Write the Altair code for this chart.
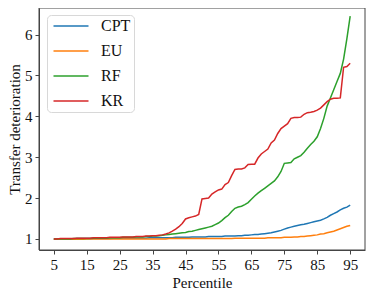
import altair as alt
import pandas as pd

percentiles = list(range(5, 96))

cpt = [1.00, 1.00, 1.00, 1.00, 1.00, 1.00, 1.00, 1.01, 1.01, 1.01,   # 5-14
       1.01, 1.01, 1.01, 1.01, 1.01, 1.01, 1.01, 1.01, 1.02, 1.02,   # 15-24
       1.02, 1.02, 1.02, 1.02, 1.02, 1.02, 1.02, 1.02, 1.02, 1.03,   # 25-34
       1.03, 1.03, 1.03, 1.03, 1.03, 1.03, 1.03, 1.04, 1.04, 1.04,   # 35-44
       1.04, 1.04, 1.05, 1.05, 1.05, 1.05, 1.05, 1.06, 1.06, 1.06,   # 45-54
       1.06, 1.06, 1.07, 1.07, 1.07, 1.07, 1.08, 1.08, 1.09, 1.09,   # 55-64
       1.10, 1.11, 1.11, 1.12, 1.13, 1.14, 1.15, 1.17, 1.19, 1.21,   # 65-74
       1.24, 1.27, 1.29, 1.31, 1.33, 1.35, 1.36, 1.38, 1.40, 1.42,   # 75-84
       1.44, 1.46, 1.49, 1.53, 1.58, 1.62, 1.66, 1.71, 1.75, 1.78,   # 85-94
       1.83]                                                         # 95

eu = [0.99, 0.99, 0.99, 0.99, 0.99, 0.99, 0.99, 0.99, 0.99, 0.99,    # 5-14
      1.00, 1.00, 1.00, 1.00, 1.00, 1.00, 1.00, 1.00, 1.00, 1.00,    # 15-24
      1.00, 1.00, 1.00, 1.00, 1.00, 1.00, 1.00, 1.00, 1.00, 1.00,    # 25-34
      1.00, 1.00, 1.00, 1.00, 1.00, 1.01, 1.01, 1.01, 1.01, 1.01,    # 35-44
      1.01, 1.01, 1.01, 1.01, 1.01, 1.01, 1.01, 1.01, 1.01, 1.01,    # 45-54
      1.01, 1.01, 1.01, 1.01, 1.01, 1.02, 1.02, 1.02, 1.02, 1.02,    # 55-64
      1.02, 1.02, 1.02, 1.02, 1.02, 1.03, 1.03, 1.03, 1.03, 1.03,    # 65-74
      1.04, 1.04, 1.04, 1.05, 1.05, 1.06, 1.06, 1.07, 1.08, 1.09,    # 75-84
      1.10, 1.12, 1.13, 1.15, 1.17, 1.19, 1.22, 1.25, 1.28, 1.31,    # 85-94
      1.33]                                                          # 95

rf = [1.00, 1.00, 1.00, 1.00, 1.00, 1.00, 1.01, 1.01, 1.01, 1.01,    # 5-14
      1.01, 1.01, 1.02, 1.02, 1.02, 1.02, 1.02, 1.03, 1.03, 1.03,    # 15-24
      1.03, 1.04, 1.04, 1.04, 1.04, 1.05, 1.05, 1.05, 1.06, 1.06,    # 25-34
      1.07, 1.07, 1.08, 1.09, 1.10, 1.11, 1.12, 1.13, 1.14, 1.15,    # 35-44
      1.16, 1.18, 1.19, 1.21, 1.23, 1.25, 1.27, 1.29, 1.31, 1.35,    # 45-54
      1.39, 1.45, 1.52, 1.58, 1.67, 1.75, 1.78, 1.80, 1.84, 1.89,    # 55-64
      1.97, 2.05, 2.12, 2.18, 2.24, 2.30, 2.36, 2.42, 2.52, 2.65,    # 65-74
      2.85, 2.86, 2.87, 2.96, 3.00, 3.04, 3.12, 3.22, 3.31, 3.39,    # 75-84
      3.50, 3.70, 3.95, 4.25, 4.45, 4.65, 4.85, 5.05, 5.40, 5.90,    # 85-94
      6.45]                                                          # 95

kr = [1.00, 1.00, 1.01, 1.01, 1.01, 1.01, 1.01, 1.02, 1.02, 1.02,    # 5-14
      1.02, 1.02, 1.03, 1.03, 1.03, 1.03, 1.03, 1.04, 1.04, 1.04,    # 15-24
      1.04, 1.05, 1.05, 1.05, 1.05, 1.06, 1.06, 1.06, 1.07, 1.07,    # 25-34
      1.08, 1.08, 1.09, 1.10, 1.12, 1.15, 1.19, 1.24, 1.30, 1.38,    # 35-44
      1.49, 1.52, 1.54, 1.56, 1.60, 1.98, 1.99, 2.00, 2.10, 2.15,    # 45-54
      2.20, 2.22, 2.33, 2.38, 2.55, 2.70, 2.71, 2.71, 2.74, 2.82,    # 55-64
      2.83, 2.83, 2.98, 3.08, 3.14, 3.20, 3.35, 3.42, 3.58, 3.70,    # 65-74
      3.76, 3.82, 3.95, 3.97, 3.97, 3.98, 4.05, 4.09, 4.10, 4.12,    # 75-84
      4.15, 4.20, 4.28, 4.36, 4.42, 4.44, 4.44, 4.45, 5.20, 5.22,    # 85-94
      5.30]                                                          # 95

series_names = ["CPT", "EU", "RF", "KR"]
series_colors = ["#1f77b4", "#ff7f0e", "#2ca02c", "#d62728"]
x_ticks = [5, 15, 25, 35, 45, 55, 65, 75, 85, 95]
y_ticks = [1, 2, 3, 4, 5, 6]

rows = []
for i, (name, vals) in enumerate(zip(series_names, [cpt, eu, rf, kr])):
    for p, v in zip(percentiles, vals):
        rows.append({"Percentile": p, "value": v, "method": name, "ord": i})
df = pd.DataFrame(rows)

FONT = "Liberation Serif"

lines = alt.Chart(df).mark_line(strokeWidth=1.5, clip=True).encode(
    x=alt.X("Percentile:Q",
            scale=alt.Scale(domain=[0.5, 99.5], nice=False, zero=False),
            axis=alt.Axis(values=x_ticks, title="Percentile", grid=False,
                          tickSize=4, labelPadding=3, titlePadding=3)),
    y=alt.Y("value:Q",
            scale=alt.Scale(domain=[0.73, 6.65], nice=False, zero=False),
            axis=alt.Axis(values=y_ticks, title="Transfer deterioration", grid=False,
                          tickSize=4, labelPadding=3, titlePadding=2)),
    color=alt.Color("method:N",
                    scale=alt.Scale(domain=series_names, range=series_colors),
                    sort=series_names,
                    legend=alt.Legend(title=None, orient="none", legendX=8, legendY=7,
                                      symbolType="M-2.5,0H2.5", symbolSize=196,
                                      symbolStrokeWidth=1.5, symbolOffset=13,
                                      labelFontSize=16,
                                      labelFont=FONT, labelColor="#111",
                                      rowPadding=9, labelOffset=22,
                                      padding=3, cornerRadius=4,
                                      strokeColor="#d8d8d8", fillColor="white")),
    order=alt.Order("ord:Q"),
)

frame = alt.Chart(pd.DataFrame({"f": [0]})).mark_rect(
    fill=None, stroke="#444", strokeWidth=1
).encode(
    x=alt.value(0), x2=alt.value("width"),
    y=alt.value(0), y2=alt.value("height"),
)

chart = alt.layer(lines, frame).properties(
    width=326, height=242,
    autosize=alt.AutoSizeParams(type="none"),
    padding={"left": 31, "top": 0, "right": 1, "bottom": 39},
).configure_view(
    stroke=None
).configure_axis(
    labelFont=FONT, titleFont=FONT, labelFontSize=15, titleFontSize=15,
    titleFontWeight="normal", labelColor="#111", titleColor="#111",
    domainColor="#444", tickColor="#444", domainWidth=1, tickWidth=1,
)

chart.save("out.html", embed_options={"renderer": "svg", "actions": False})
